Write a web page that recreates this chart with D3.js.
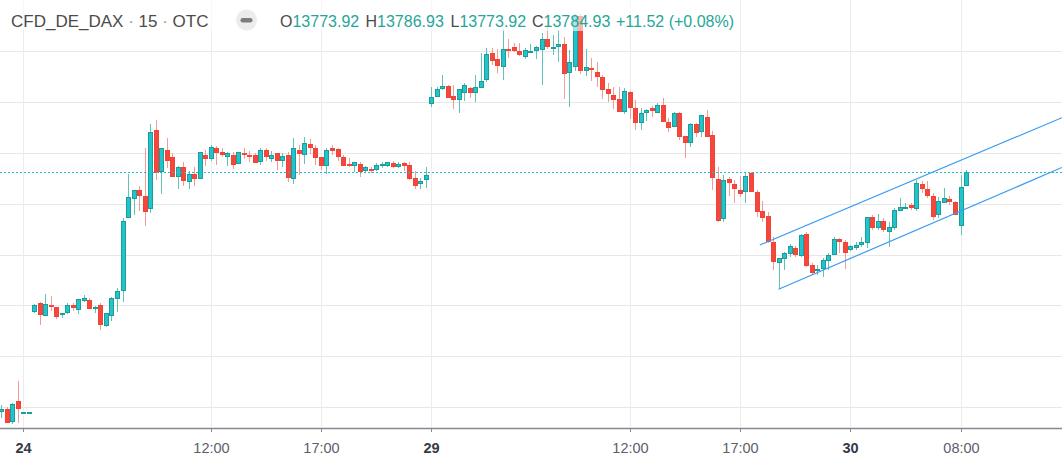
<!DOCTYPE html>
<html><head><meta charset="utf-8">
<script src="https://cdn.jsdelivr.net/npm/d3@7"></script>
<style>html,body{margin:0;padding:0;background:#fff;overflow:hidden}svg{display:block}</style>
</head><body><svg id="c" width="1062" height="462"></svg>
<script>
// ---- data (15-minute bars, bar index 0..175) ----
const opens = [13596.1,13598.4,13588.0,13604.8,13595.9,13595.9,13675.1,13681.9,13671.9,13680.3,
13678.8,13673.5,13674.3,13680.3,13676.6,13683.7,13684.3,13677.4,13680.3,13664.0,
13671.9,13685.3,13691.6,13748.6,13763.6,13770.9,13766.2,13755.7,13818.1,13785.3,
13802.4,13796.9,13781.4,13789.0,13777.4,13783.5,13779.8,13798.5,13795.5,13803.7,
13800.6,13796.6,13798.5,13791.1,13800.0,13798.5,13798.5,13793.2,13802.2,13795.5,
13800.0,13794.0,13798.5,13779.3,13802.2,13798.2,13807.1,13803.7,13796.6,13790.0,
13803.7,13802.9,13796.6,13791.4,13790.0,13791.4,13786.1,13787.4,13786.9,13790.3,
13790.0,13791.9,13788.8,13792.4,13790.6,13780.1,13775.4,13778.8,13838.4,13844.4,
13850.7,13852.8,13844.9,13841.5,13847.5,13851.2,13847.0,13851.4,13857.3,13878.8,
13873.8,13867.5,13881.9,13883.5,13880.3,13875.9,13879.8,13880.1,13881.1,13889.6,
13883.3,13883.7,13885.9,13863.3,13867.5,13907.9,13864.8,13866.7,13863.6,13859.6,
13850.2,13845.7,13842.3,13832.6,13848.3,13835.7,13823.4,13831.3,13835.5,13831.8,
13837.6,13824.2,13820.7,13831.3,13813.4,13807.7,13822.6,13816.3,13828.1,13814.2,
13779.3,13747.8,13779.3,13775.4,13770.9,13769.1,13784.5,13769.6,13754.4,13750.4,
13730.2,13713.7,13716.3,13720.3,13725.0,13719.2,13736.2,13711.6,13707.4,13708.5,
13715.2,13719.7,13732.1,13730.2,13723.7,13725.0,13727.8,13728.9,13749.4,13741.2,
13746.2,13738.1,13740.7,13754.6,13756.5,13759.1,13755.7,13775.6,13771.4,13766.2,
13751.2,13760.9,13763.6,13761.7,13742.8,13773.92];
const highs = [13601.6,13599.8,13603.4,13620.5,13595.9,13595.9,13681.1,13682.7,13689.0,13687.4,
13678.8,13674.0,13681.9,13681.9,13685.3,13688.2,13685.9,13679.8,13681.9,13674.0,
13686.6,13693.7,13748.6,13783.5,13770.9,13774.0,13804.2,13822.9,13826.0,13803.7,
13811.8,13799.8,13790.0,13792.9,13785.9,13789.0,13800.6,13802.4,13806.6,13805.8,
13803.7,13801.1,13800.6,13800.6,13804.0,13801.6,13800.0,13804.0,13804.0,13801.4,
13800.0,13799.8,13801.1,13811.6,13806.3,13812.6,13811.0,13806.3,13796.6,13803.7,
13806.3,13803.7,13798.5,13795.9,13792.7,13792.7,13789.8,13789.2,13792.4,13793.2,
13793.2,13794.0,13792.7,13793.2,13793.2,13786.1,13780.1,13789.2,13851.8,13852.2,
13861.4,13853.6,13853.6,13850.7,13854.9,13852.2,13861.4,13879.0,13882.5,13882.5,
13881.9,13897.7,13889.8,13886.6,13886.4,13882.5,13885.9,13884.3,13894.5,13910.3,
13892.9,13896.9,13891.6,13881.1,13909.5,13909.5,13881.9,13874.6,13871.7,13861.4,
13854.9,13851.8,13851.8,13851.2,13848.9,13841.8,13835.2,13834.4,13837.0,13839.6,
13843.1,13827.4,13832.6,13832.6,13813.4,13823.4,13823.4,13830.2,13833.9,13817.6,
13789.2,13782.7,13781.4,13778.8,13781.9,13784.0,13785.3,13770.9,13762.5,13753.8,
13734.1,13717.1,13722.3,13728.4,13727.0,13736.2,13738.1,13713.2,13711.8,13717.1,
13721.1,13733.7,13732.9,13731.5,13727.4,13730.2,13733.7,13749.4,13751.2,13751.8,
13748.6,13745.9,13756.5,13764.4,13760.9,13760.9,13778.8,13778.2,13778.2,13768.3,
13765.1,13772.2,13766.4,13762.5,13782.7,13786.93];
const lows = [13591.4,13587.4,13586.6,13587.7,13595.9,13595.9,13674.3,13664.6,13671.9,13675.6,
13669.3,13670.3,13673.5,13675.9,13673.5,13682.9,13677.4,13674.3,13660.9,13663.3,
13668.0,13674.8,13682.9,13748.6,13751.2,13754.4,13742.6,13753.0,13778.8,13767.7,
13788.0,13781.4,13771.7,13774.0,13771.7,13774.0,13779.8,13789.8,13794.0,13790.6,
13796.6,13790.0,13787.2,13791.1,13795.5,13792.9,13792.4,13790.8,13794.0,13792.9,
13786.6,13789.2,13777.4,13775.4,13782.7,13791.4,13799.2,13790.6,13786.6,13783.3,
13798.5,13794.0,13790.0,13789.2,13785.3,13781.4,13785.3,13784.0,13786.1,13788.5,
13789.2,13788.5,13788.0,13786.1,13778.8,13771.7,13771.7,13772.2,13836.5,13844.4,
13849.6,13843.1,13834.7,13831.3,13841.2,13843.6,13840.4,13851.0,13856.2,13869.3,
13862.8,13857.5,13874.6,13879.6,13876.4,13874.3,13879.0,13874.0,13853.6,13881.9,
13877.2,13871.4,13842.6,13836.5,13864.8,13862.2,13860.9,13857.0,13852.2,13842.6,
13840.4,13834.7,13832.1,13830.7,13826.8,13818.1,13818.1,13825.5,13828.1,13831.5,
13824.7,13816.8,13820.5,13810.3,13796.3,13805.0,13812.9,13812.4,13812.9,13770.9,
13745.9,13745.9,13766.2,13760.9,13765.6,13760.9,13769.1,13749.9,13745.9,13729.2,
13707.9,13692.7,13707.9,13718.4,13718.1,13718.4,13710.5,13704.0,13704.0,13702.2,
13707.9,13719.7,13721.1,13708.7,13723.1,13723.7,13725.8,13725.0,13739.4,13739.4,
13738.1,13725.8,13739.4,13754.6,13755.7,13755.2,13754.6,13768.3,13764.4,13747.3,
13748.6,13760.7,13759.1,13751.2,13735.5,13773.92];
const closes = [13598.4,13587.7,13602.4,13598.2,13595.9,13595.9,13680.1,13672.7,13681.1,13679.0,
13671.1,13674.0,13680.3,13677.7,13685.1,13685.9,13677.4,13678.5,13664.8,13674.0,
13685.9,13691.4,13746.5,13765.4,13770.9,13766.4,13753.8,13816.6,13784.5,13803.7,
13794.0,13781.4,13789.0,13778.2,13783.5,13779.8,13800.6,13795.5,13804.5,13799.8,
13798.2,13799.8,13790.3,13800.6,13799.2,13797.1,13792.4,13802.2,13796.6,13798.5,
13793.5,13797.7,13780.1,13803.7,13799.5,13807.7,13803.7,13795.9,13790.0,13802.2,
13801.8,13797.1,13790.0,13790.3,13792.7,13785.3,13788.8,13786.6,13790.6,13791.6,
13792.7,13789.2,13791.4,13789.8,13779.6,13774.3,13778.0,13782.5,13843.9,13850.2,
13852.6,13843.6,13841.5,13850.2,13853.6,13847.5,13851.8,13856.7,13878.0,13872.7,
13868.8,13881.9,13881.4,13880.6,13877.4,13881.1,13880.6,13883.3,13889.6,13883.3,
13883.7,13885.9,13862.5,13871.7,13907.9,13864.8,13867.7,13866.2,13859.6,13849.9,
13846.3,13841.5,13832.1,13848.9,13835.2,13823.9,13831.3,13833.9,13833.3,13837.6,
13824.7,13820.0,13831.3,13812.9,13808.1,13822.6,13815.5,13829.7,13812.9,13780.1,
13746.7,13778.8,13776.2,13771.9,13768.0,13781.9,13769.1,13753.8,13749.1,13730.2,
13714.4,13717.1,13721.1,13726.8,13719.7,13735.5,13711.3,13705.8,13708.5,13715.8,
13719.7,13732.3,13729.7,13721.1,13726.8,13727.6,13730.2,13749.4,13740.7,13746.2,
13739.4,13741.5,13755.2,13757.3,13757.7,13756.5,13776.2,13771.4,13766.4,13749.9,
13762.0,13764.4,13761.7,13751.2,13773.41,13784.93];

const tickIndex  = [4, 38, 58, 78, 114, 134, 154, 174];
const tickLabels = ["24", "12:00", "17:00", "29", "12:00", "17:00", "30", "08:00"];
const tickIsDay  = [true, false, false, true, false, false, true, false];
const gridPrices = [13600, 13640, 13680, 13720, 13760, 13800, 13840, 13880];
const channelUpperIdx = [137.6, 192.4], channelUpperPrice = [13727.6, 13827.8];
const channelLowerIdx = [141.0, 192.4], channelLowerPrice = [13692.7, 13788.6];
const symbolParts = ["CFD_DE_DAX", "15", "OTC"];

// ---- layout ----
const W = 1062, H = 462, plotBottom = 428;
const svg = d3.select("#c");
const x = d3.scaleLinear().domain([-0.2213, 192.41]).range([0, W]);
const y = d3.scaleLinear().domain([13583.5, 13920.47]).range([plotBottom, 0]);
const FONT = "'Liberation Sans', Arial, sans-serif";

const UP_FILL = "#22c3cd", UP_BORDER = "#1a9e97", UP_WICK = "#64c2b8";
const DN_FILL = "#f5473c", DN_BORDER = "#ee4439", DN_WICK = "#f39b95";

// grid
const grid = svg.append("g");
grid.selectAll("line.h").data(gridPrices).enter().append("line")
  .attr("x1", 0).attr("x2", W)
  .attr("y1", d => Math.round(y(d)) + 0.5).attr("y2", d => Math.round(y(d)) + 0.5)
  .attr("stroke", "#e7e7e9").attr("stroke-width", 1);
grid.selectAll("line.v").data(tickIndex).enter().append("line")
  .attr("y1", 0).attr("y2", plotBottom)
  .attr("x1", d => Math.round(x(d)) + 0.5).attr("x2", d => Math.round(x(d)) + 0.5)
  .attr("stroke", "#ececee").attr("stroke-width", 1);

// candles
const bars = d3.range(opens.length).map(i => ({i, o: opens[i], h: highs[i], l: lows[i], c: closes[i]}));
const cg = svg.append("g");
bars.forEach(b => {
  const up = b.c >= b.o;
  const cx = Math.round(x(b.i));
  cg.append("line")
    .attr("x1", cx + 0.5).attr("x2", cx + 0.5)
    .attr("y1", Math.round(y(b.h))).attr("y2", Math.max(Math.round(y(b.l)), Math.round(y(b.h)) + 1))
    .attr("stroke", up ? UP_WICK : DN_WICK).attr("stroke-width", 1);
  const top = Math.round(y(Math.max(b.o, b.c)));
  const bot = Math.round(y(Math.min(b.o, b.c)));
  const hgt = Math.max(2, bot - top);
  if (hgt <= 2) {
    cg.append("rect").attr("x", cx - 2).attr("y", top).attr("width", 5).attr("height", hgt)
      .attr("fill", up ? UP_BORDER : DN_FILL);
  } else {
    cg.append("rect").attr("x", cx - 1.5).attr("y", top + 0.5).attr("width", 4).attr("height", hgt - 1)
      .attr("fill", up ? UP_FILL : DN_FILL)
      .attr("stroke", up ? UP_BORDER : DN_BORDER).attr("stroke-width", 1);
  }
});

// channel
const line = d3.line().x(d => x(d[0])).y(d => y(d[1]));
svg.append("path").datum(d3.zip(channelUpperIdx, channelUpperPrice)).attr("d", line)
  .attr("fill", "none").attr("stroke", "#3b9bf2").attr("stroke-width", 1.2);
svg.append("path").datum(d3.zip(channelLowerIdx, channelLowerPrice)).attr("d", line)
  .attr("fill", "none").attr("stroke", "#3b9bf2").attr("stroke-width", 1.2);

// last price line
const last = bars[bars.length - 1];
const ly = Math.round(y(last.c)) + 0.5;
svg.append("line").attr("x1", 0).attr("x2", W).attr("y1", ly).attr("y2", ly)
  .attr("stroke", "#1fbccf").attr("stroke-width", 1).attr("stroke-dasharray", "2,2");

// x axis
svg.append("line").attr("x1", 0).attr("x2", W).attr("y1", plotBottom + 0.5).attr("y2", plotBottom + 0.5)
  .attr("stroke", "#858991").attr("stroke-width", 1.3);
const ax = svg.append("g");
tickIndex.forEach((t, k) => {
  const tx = Math.round(x(t)) + 0.5;
  ax.append("line").attr("x1", tx).attr("x2", tx).attr("y1", plotBottom).attr("y2", plotBottom + 4)
    .attr("stroke", "#858991");
  ax.append("text").attr("x", tx).attr("y", 453).attr("text-anchor", "middle")
    .attr("font-family", FONT).attr("font-size", 14.5)
    .attr("font-weight", tickIsDay[k] ? "bold" : "normal")
    .attr("fill", tickIsDay[k] ? "#363a45" : "#5d606b")
    .text(tickLabels[k]);
});

// legend
svg.append("rect").attr("x", 0).attr("y", 0).attr("width", 740).attr("height", 31)
  .attr("fill", "#fff").attr("opacity", 0.6);
const title = svg.append("text").attr("x", 11).attr("y", 27)
  .attr("font-family", FONT).attr("font-size", 17).attr("fill", "#4b4b4b");
title.append("tspan").text(symbolParts[0]);
title.append("tspan").attr("fill", "#9a9a9a").text(" \u00b7 ");
title.append("tspan").text(symbolParts[1]);
title.append("tspan").attr("fill", "#9a9a9a").text(" \u00b7 ");
title.append("tspan").text(symbolParts[2]);

svg.append("circle").attr("cx", 246.5).attr("cy", 20).attr("r", 10.5).attr("fill", "#ececec");
svg.append("rect").attr("x", 240.5).attr("y", 18).attr("width", 12).attr("height", 4.5).attr("rx", 2.2)
  .attr("fill", "#7d7d7d");

const prev = bars[bars.length - 2];
const chg = last.c - prev.c;
const pct = chg / prev.c * 100;
const f2 = d3.format(".2f");
const items = [
  ["O", f2(last.o), 280], ["H", f2(last.h), 365.5], ["L", f2(last.l), 450.5], ["C", f2(last.c), 532]
];
items.forEach(([k, v, px]) => {
  const t = svg.append("text").attr("x", px).attr("y", 26.5)
    .attr("font-family", FONT).attr("font-size", 16);
  t.append("tspan").attr("fill", "#4b4b4b").text(k);
  t.append("tspan").attr("fill", "#26a69a").text(v);
});
svg.append("text").attr("x", 616).attr("y", 26.5).attr("font-family", FONT).attr("font-size", 16)
  .attr("fill", "#26a69a")
  .text((chg >= 0 ? "+" : "") + f2(chg) + " (" + (pct >= 0 ? "+" : "") + f2(pct) + "%)");
</script></body></html>
